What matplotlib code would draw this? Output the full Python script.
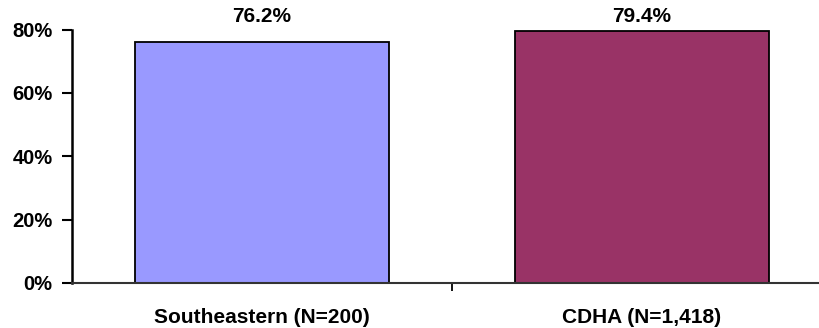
import matplotlib
matplotlib.use("Agg")
import matplotlib.pyplot as plt

# Data
categories = ["Southeastern (N=200)", "CDHA (N=1,418)"]
values = [76.2, 79.4]
colors = ["#9999FF", "#993366"]
yticks = [0, 20, 40, 60, 80]
ytick_labels = ["0%", "20%", "40%", "60%", "80%"]

plt.rcParams["font.family"] = ["Liberation Sans", "DejaVu Sans"]
plt.rcParams["font.weight"] = "bold"

W, H = 820, 328
fig = plt.figure(figsize=(W / 100, H / 100), dpi=100)
ax = fig.add_axes([72 / W, 45 / H, 760 / W, 253.5 / H])

x = list(range(len(categories)))
ax.bar(x, values, width=0.67, color=colors, edgecolor="black", linewidth=1.3, zorder=2)

ax.set_xlim(-0.5, len(categories) - 0.5)
ax.set_ylim(0, 80)

ax.set_yticks(yticks)
ax.set_yticklabels(ytick_labels, fontsize=14.5, fontweight="bold")
ax.tick_params(axis="y", length=7, width=1.5, pad=7, direction="out")

# category labels centred under bars; small ticks at category boundaries
ax.set_xticks(x)
ax.set_xticklabels(categories, fontsize=15, fontweight="bold")
ax.tick_params(axis="x", length=0, pad=18)
ax.set_xticks([0.5], minor=True)
ax.tick_params(axis="x", which="minor", length=6, width=1.3, direction="out")

for s in ["top", "right"]:
    ax.spines[s].set_visible(False)
ax.spines["left"].set_linewidth(1.8)
ax.spines["bottom"].set_linewidth(1.5)
ax.spines["bottom"].set_color("#333333")

# value labels above bars
for xi, v in zip(x, values):
    ax.text(xi, 1.0 + 12.5 / 253.5, f"{v:.1f}%", transform=ax.get_xaxis_transform(),
            ha="center", va="center", fontsize=15, fontweight="bold")

fig.savefig("out.png", dpi=100)
